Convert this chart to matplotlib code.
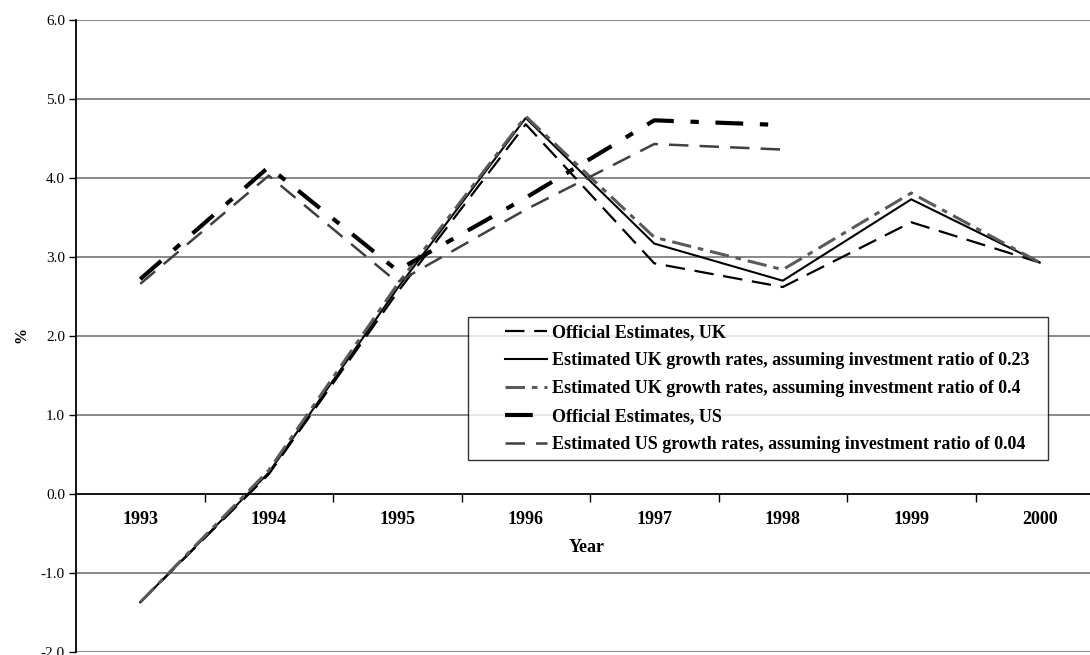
import matplotlib
matplotlib.use("Agg")
import matplotlib.pyplot as plt
from matplotlib.legend_handler import HandlerLine2D

# ---------------------------------------------------------------------------
# Data
# ---------------------------------------------------------------------------
years = ["1993", "1994", "1995", "1996", "1997", "1998", "1999", "2000"]
uk_official = [-1.37, 0.25, 2.55, 4.68, 2.92, 2.62, 3.44, 2.93]
uk_est_023 = [-1.37, 0.27, 2.60, 4.76, 3.17, 2.70, 3.73, 2.93]
uk_est_04 = [-1.37, 0.30, 2.65, 4.78, 3.25, 2.84, 3.81, 2.93]
us_official = [2.72, 4.14, 2.83, 3.75, 4.73, 4.67]
us_est_004 = [2.66, 4.03, 2.68, 3.60, 4.43, 4.36]
yticks = [-2.0, -1.0, 0.0, 1.0, 2.0, 3.0, 4.0, 5.0, 6.0]

legend_labels = [
    "Official Estimates, UK",
    "Estimated UK growth rates, assuming investment ratio of 0.23",
    "Estimated UK growth rates, assuming investment ratio of 0.4",
    "Official Estimates, US",
    "Estimated US growth rates, assuming investment ratio of 0.04",
]

plt.rcParams["font.family"] = ["Liberation Serif", "DejaVu Serif"]
plt.rcParams["lines.scale_dashes"] = False

W, H = 1090, 655
fig = plt.figure(figsize=(W / 100, H / 100), dpi=100)
# plot area runs past the right edge of the image, as in the reference
ax = fig.add_axes([76 / W, 3 / H, 1028 / W, 632 / H])

x = list(range(len(years)))
xu = x[:len(us_official)]

ax.plot(x, uk_official, color="black", lw=1.6, dashes=(14, 7), label=legend_labels[0])
ax.plot(x, uk_est_023, color="black", lw=1.5, label=legend_labels[1])
ax.plot(x, uk_est_04, color="#5a5a5a", lw=2.2, dashes=(14, 5, 4, 5), label=legend_labels[2])
ax.plot(xu, us_official, color="black", lw=3.0, dashes=(20, 12, 6, 12), label=legend_labels[3])
ax.plot(xu, us_est_004, color="#404040", lw=1.8, dashes=(14, 8), label=legend_labels[4])

ax.set_xlim(-0.5, 7.5)
ax.set_ylim(-2.0, 6.0)

# horizontal gridlines
for v in yticks:
    if v != 0.0:
        ax.axhline(v, color="#808080", lw=1.3, zorder=0)

ax.spines["top"].set_visible(False)
ax.spines["right"].set_visible(False)
ax.spines["bottom"].set_position(("data", 0))
ax.spines["bottom"].set_linewidth(1.3)
ax.spines["left"].set_linewidth(1.3)

ax.set_yticks(yticks)
ax.set_yticklabels([f"{v:.1f}" for v in yticks], fontsize=11)
ax.tick_params(axis="y", direction="out", length=5, width=1, pad=3)

ax.set_xticks(x)
ax.set_xticklabels(years, fontsize=13, fontweight="bold")
ax.set_xticks([i + 0.5 for i in x], minor=True)
ax.tick_params(axis="x", which="major", length=0, pad=12.5)
ax.tick_params(axis="x", which="minor", direction="out", length=6, width=1)

fig.text(587 / W, 1 - 548 / H, "Year", fontsize=13, fontweight="bold",
         ha="center", va="center")
fig.text(21 / W, 1 - 335 / H, "%", fontsize=11.5, fontweight="bold",
         ha="center", va="center", rotation=90)

# legend box: frame 468..1048 px wide, top at 317 px
leg = ax.legend(loc="upper left", bbox_to_anchor=(0.381, 0.30, 0.5645, 0.5294 - 0.30),
                mode="expand", prop={"weight": "bold", "size": 13},
                frameon=True, fancybox=False, handlelength=4.0,
                handler_map={plt.Line2D: HandlerLine2D(xpad=1.65)},
                handletextpad=0.28, labelspacing=0.6, borderpad=0.4,
                borderaxespad=0)
leg.get_frame().set_edgecolor("black")
leg.get_frame().set_linewidth(1.0)

fig.savefig("out.png", dpi=100)
